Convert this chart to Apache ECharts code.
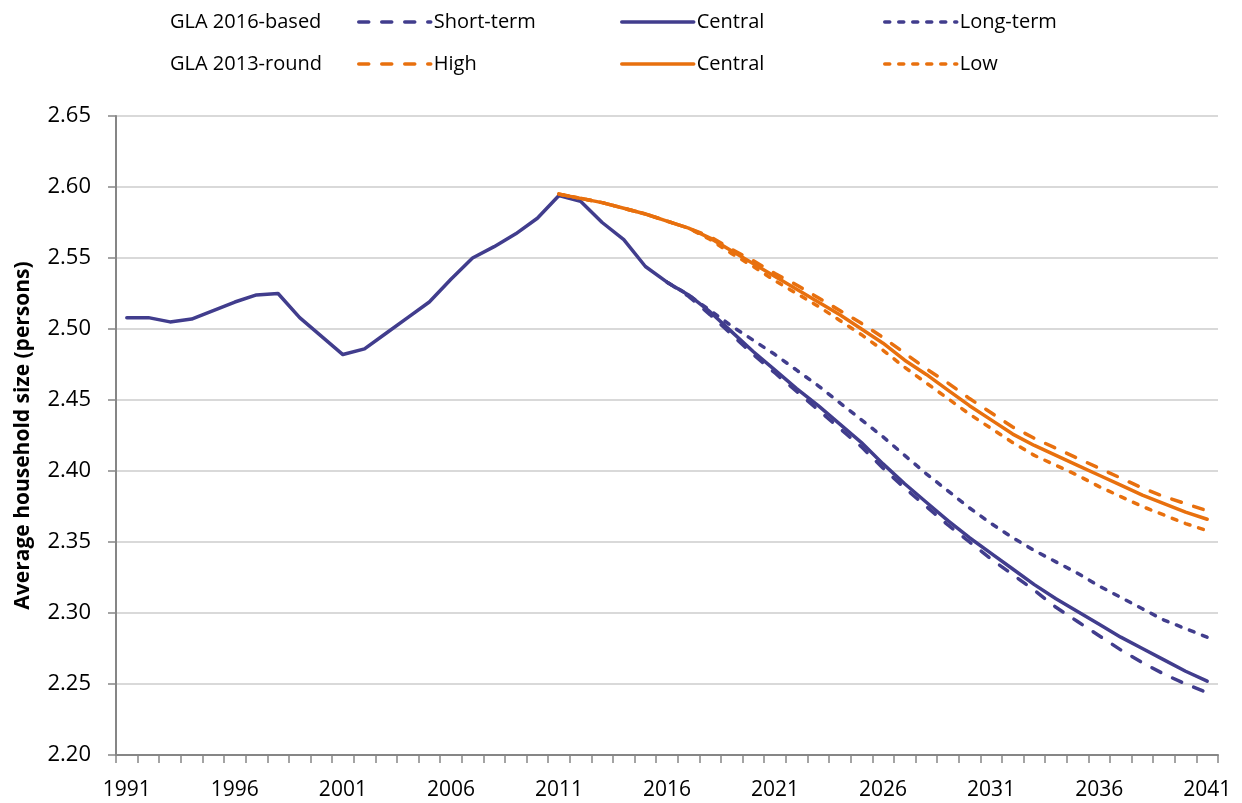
<!DOCTYPE html>
<html>
<head>
<meta charset="utf-8">
<title>Average household size</title>
<script src="https://cdn.jsdelivr.net/npm/echarts@6/dist/echarts.min.js"></script>
<style>
html, body { margin: 0; padding: 0; background: #fff; }
#chart { width: 1242px; height: 803px; }
</style>
</head>
<body>
<div id="chart"></div>
<script>
// years on the category axis
var years = [];
for (var y = 1991; y <= 2041; y++) years.push(String(y));
var yTicks = ['2.20', '2.25', '2.30', '2.35', '2.40', '2.45', '2.50', '2.55', '2.60', '2.65'];

// GLA 2016-based, central (history 1991-2016 + projection to 2041)
var central2016 = [2.508, 2.508, 2.505, 2.507, 2.513, 2.519, 2.524, 2.525, 2.508, 2.495,
	2.482, 2.486, 2.497, 2.508, 2.519, 2.535, 2.550, 2.558, 2.567, 2.578,
	2.594, 2.590, 2.575, 2.563, 2.544, 2.533, 2.524, 2.512, 2.498, 2.484,
	2.471, 2.458, 2.446, 2.433, 2.420, 2.405, 2.391, 2.378, 2.365, 2.353,
	2.342, 2.331, 2.320, 2.310, 2.301, 2.292, 2.283, 2.275, 2.267, 2.259, 2.252];
// from 2016
var shortTerm = [2.533, 2.523, 2.510, 2.496, 2.482, 2.469, 2.456, 2.443, 2.430, 2.417,
	2.402, 2.388, 2.375, 2.362, 2.350, 2.338, 2.327, 2.316, 2.304, 2.294,
	2.284, 2.274, 2.265, 2.257, 2.250, 2.244];
var longTerm = [2.533, 2.524, 2.513, 2.502, 2.492, 2.482, 2.471, 2.460, 2.448, 2.436,
	2.424, 2.411, 2.398, 2.386, 2.374, 2.363, 2.353, 2.344, 2.336, 2.328,
	2.319, 2.311, 2.303, 2.295, 2.289, 2.283];
// GLA 2013-round, from 2011
var high2013 = [2.595, 2.592, 2.589, 2.585, 2.581, 2.576, 2.571, 2.565, 2.556, 2.548,
	2.539, 2.531, 2.522, 2.513, 2.504, 2.494, 2.483, 2.472, 2.462, 2.451,
	2.441, 2.431, 2.423, 2.416, 2.409, 2.402, 2.395, 2.388, 2.382, 2.377, 2.372];
var central2013 = [2.595, 2.592, 2.589, 2.585, 2.581, 2.576, 2.571, 2.564, 2.555, 2.546,
	2.537, 2.528, 2.519, 2.510, 2.500, 2.490, 2.478, 2.468, 2.457, 2.446,
	2.436, 2.426, 2.418, 2.411, 2.404, 2.397, 2.390, 2.383, 2.377, 2.371, 2.366];
var low2013 = [2.595, 2.592, 2.589, 2.585, 2.581, 2.576, 2.571, 2.563, 2.553, 2.544,
	2.534, 2.525, 2.516, 2.506, 2.496, 2.485, 2.473, 2.462, 2.451, 2.440,
	2.430, 2.420, 2.411, 2.404, 2.397, 2.389, 2.382, 2.375, 2.369, 2.363, 2.358];

var purple = '#413D8D';
var orange = '#E8700E';
var fontName = '"Open Sans", sans-serif';

// pad a series that starts at a later year with nulls
function fromYear(start, vals) {
	var out = [];
	var offset = years.indexOf(String(start));
	for (var i = 0; i < years.length; i++) {
		var j = i - offset;
		out.push(j >= 0 && j < vals.length ? vals[j] : null);
	}
	return out;
}

function makeLine(name, color, data, dash) {
	return {
		name: name,
		type: 'line',
		data: data,
		symbol: 'none',
		smooth: false,
		lineStyle: {
			color: color,
			width: 3.5,
			type: dash || 'solid',
			cap: 'round',
			join: 'round'
		},
		itemStyle: { color: color },
		z: 3
	};
}

var longDash = [10, 13];
var shortDash = [5, 9];

var series = [
	makeLine('Short-term', purple, fromYear(2016, shortTerm), longDash),
	makeLine('Long-term', purple, fromYear(2016, longTerm), shortDash),
	makeLine('Central 2016', purple, central2016),
	makeLine('High', orange, fromYear(2011, high2013), longDash),
	makeLine('Low', orange, fromYear(2011, low2013), shortDash),
	makeLine('Central 2013', orange, fromYear(2011, central2013))
];

// one legend per item so they sit in fixed columns
var legendItems = [
	{ name: 'Short-term', label: 'Short-term', left: 357, top: 12 },
	{ name: 'Central 2016', label: 'Central', left: 620, top: 12 },
	{ name: 'Long-term', label: 'Long-term', left: 883, top: 12 },
	{ name: 'High', label: 'High', left: 357, top: 54 },
	{ name: 'Central 2013', label: 'Central', left: 620, top: 54 },
	{ name: 'Low', label: 'Low', left: 883, top: 54 }
];
var legends = legendItems.map(function(it) {
	return {
		data: [it.name],
		left: it.left,
		top: it.top,
		padding: 0,
		itemWidth: 72,
		itemHeight: 8,
		itemGap: 0,
		selectedMode: false,
		itemStyle: { opacity: 0 },
		lineStyle: { width: 3.5 },
		formatter: function() { return it.label; },
		textStyle: { fontFamily: fontName, fontSize: 20, color: '#000', padding: [0, 0, 0, -2] }
	};
});

var chart = echarts.init(document.getElementById('chart'));
var option = {
	backgroundColor: '#fff',
	animation: false,
	legend: legends,
	graphic: [
		{ type: 'text', left: 170, top: 12, style: { text: 'GLA 2016-based', font: '20px ' + fontName, fill: '#000' } },
		{ type: 'text', left: 170, top: 54, style: { text: 'GLA 2013-round', font: '20px ' + fontName, fill: '#000' } }
	],
	grid: {
		left: 116,
		right: 24,
		top: 116,
		bottom: 48,
		containLabel: false
	},
	xAxis: {
		type: 'category',
		data: years,
		boundaryGap: true,
		axisLine: { lineStyle: { color: '#868686', width: 2 } },
		axisTick: { show: true, interval: 0, length: 8, lineStyle: { color: '#868686', width: 1.5 } },
		axisLabel: {
			interval: 4,
			margin: 25,
			fontFamily: fontName,
			fontSize: 21,
			color: '#000'
		},
		splitLine: { show: false }
	},
	yAxis: {
		type: 'value',
		min: 2.2,
		max: 2.65,
		interval: 0.05,
		name: 'Average household size (persons)',
		nameLocation: 'middle',
		nameGap: 82,
		nameTextStyle: { fontFamily: fontName, fontSize: 21, fontWeight: 'bold', color: '#000' },
		axisLine: { show: true, lineStyle: { color: '#868686', width: 2 } },
		axisTick: { show: true, length: 8, lineStyle: { color: '#868686', width: 1.5 } },
		axisLabel: {
			margin: 25,
			fontFamily: fontName,
			fontSize: 22,
			color: '#000',
			formatter: function(v) { return yTicks[Math.round((v - 2.2) / 0.05)] || v.toFixed(2); }
		},
		splitLine: { show: true, lineStyle: { color: '#d9d9d9', width: 2 } }
	},
	series: series
};
chart.setOption(option);
</script>
</body>
</html>
